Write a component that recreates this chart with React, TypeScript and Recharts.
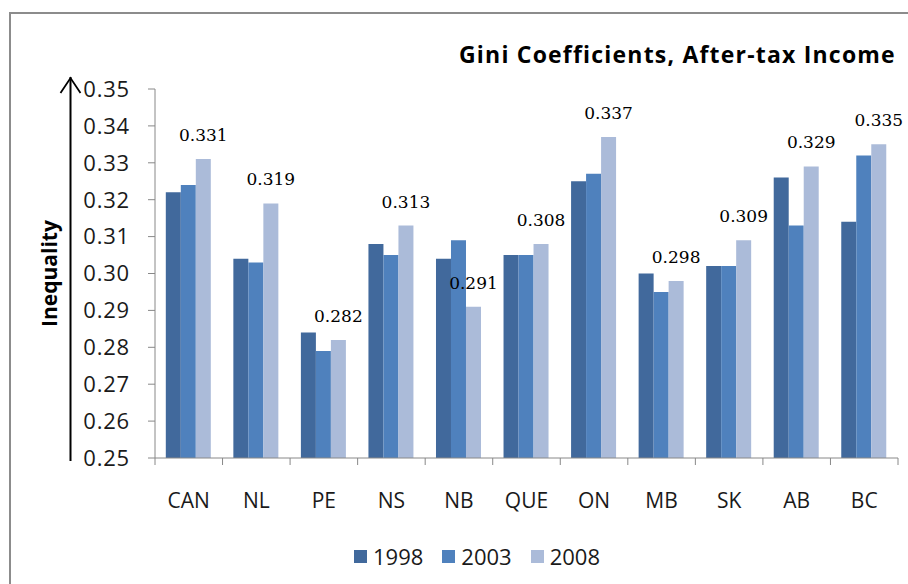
import React from 'react';
import { Bar, BarChart, XAxis, YAxis, Legend, LabelList } from 'recharts';

const categories = ['CAN', 'NL', 'PE', 'NS', 'NB', 'QUE', 'ON', 'MB', 'SK', 'AB', 'BC'];
const gini1998 = [0.322, 0.304, 0.284, 0.308, 0.304, 0.305, 0.325, 0.3, 0.302, 0.326, 0.314];
const gini2003 = [0.324, 0.303, 0.279, 0.305, 0.309, 0.305, 0.327, 0.295, 0.302, 0.313, 0.332];
const gini2008 = [0.331, 0.319, 0.282, 0.313, 0.291, 0.308, 0.337, 0.298, 0.309, 0.329, 0.335];
const yTicks = [0.25, 0.26, 0.27, 0.28, 0.29, 0.3, 0.31, 0.32, 0.33, 0.34, 0.35];

const title = 'Gini Coefficients, After-tax Income';
const yTitle = 'Inequality';

const sans = '"Open Sans", sans-serif';
const serif = '"DejaVu Serif", serif';
const axisGray = '#888888';

const colors = { y1998: '#41699c', y2003: '#4f81bd', y2008: '#abbbd9' };

const data = categories.map((name, i) => ({
  name,
  y1998: gini1998[i],
  y2003: gini2003[i],
  y2008: gini2008[i],
}));

// category tick: label + boundary tick marks between bands
const CategoryTick = (props: any) => {
  const { x, y, payload, index, width } = props;
  const bw = width / categories.length;
  return (
    <g>
      <line x1={x - bw / 2} x2={x - bw / 2} y1={y} y2={y + 7} stroke={axisGray} />
      {index === categories.length - 1 && (
        <line x1={x + bw / 2} x2={x + bw / 2} y1={y} y2={y + 7} stroke={axisGray} />
      )}
      <text x={x} y={y + 50} textAnchor="middle" fontFamily={sans} fontSize={21} fill="#1a1a1a">
        {payload.value}
      </text>
    </g>
  );
};

// rotated title plus the arrow that runs up beside the y axis
const YTitle = (props: any) => {
  const { viewBox } = props;
  const { x, y, height } = viewBox;
  const lx = x + 62.5;
  const top = y - 12;
  const cy = y + height / 2;
  return (
    <g>
      <line x1={lx} x2={lx} y1={top} y2={y + height + 3} stroke="#000" strokeWidth={2} />
      <polyline
        points={`${lx - 10},${top + 16} ${lx},${top + 1} ${lx + 10},${top + 16}`}
        fill="none"
        stroke="#000"
        strokeWidth={1.8}
      />
      <text
        x={x + 49}
        y={cy}
        transform={`rotate(-90 ${x + 49} ${cy})`}
        textAnchor="middle"
        fontFamily={sans}
        fontWeight="bold"
        fontSize={21}
        fill="#000"
      >
        {yTitle}
      </text>
    </g>
  );
};

const LegendContent = ({ payload }: any) => (
  <div style={{ display: 'flex', fontFamily: sans, fontSize: 22, color: '#1a1a1a', lineHeight: '26px' }}>
    {payload.map((entry: any) => (
      <span key={entry.value} style={{ display: 'flex', alignItems: 'center', marginRight: 19 }}>
        <span style={{ width: 13, height: 13, background: entry.color, marginRight: 6 }} />
        {entry.value}
      </span>
    ))}
  </div>
);

const App = () => {
  return (
    <div style={{ position: 'relative', width: 908, height: 584, overflow: 'hidden', background: '#fff' }}>
      <style>{'html, body { margin: 0; overflow: hidden; }'}</style>
      <div
        style={{
          position: 'absolute',
          left: 9,
          top: 12,
          width: 980,
          height: 640,
          border: '2px solid #8c8c8c',
        }}
      />
      <div style={{ position: 'absolute', left: 8, top: 8 }}>
        <BarChart
          width={940}
          height={576}
          data={data}
          margin={{ top: 81, right: 50, left: 0, bottom: 0 }}
          barCategoryGap="16%"
          barGap={0}
        >
          <text
            x={451}
            y={55}
            fontFamily={sans}
            fontWeight="bold"
            fontSize={23}
            letterSpacing={1.2}
            fill="#000"
          >
            {title}
          </text>
          <XAxis
            dataKey="name"
            height={126}
            stroke={axisGray}
            tickLine={false}
            tickSize={0}
            tickMargin={0}
            tick={<CategoryTick />}
            interval={0}
          />
          <YAxis
            width={147}
            domain={[0.25, 0.35]}
            ticks={yTicks}
            interval={0}
            stroke={axisGray}
            tickSize={7}
            tickMargin={18}
            tickFormatter={(v: number) => v.toFixed(2)}
            tick={{ fontFamily: sans, fontSize: 22, fill: '#1a1a1a', letterSpacing: 0.8 }}
            allowDataOverflow
            label={<YTitle />}
          />
          <Legend
            layout="horizontal"
            verticalAlign="middle"
            content={<LegendContent />}
            wrapperStyle={{ left: 346, top: 535, width: 'auto' }}
          />
          <Bar dataKey="y1998" name="1998" fill={colors.y1998} isAnimationActive={false} />
          <Bar dataKey="y2003" name="2003" fill={colors.y2003} isAnimationActive={false} />
          <Bar dataKey="y2008" name="2008" fill={colors.y2008} isAnimationActive={false}>
            <LabelList
              dataKey="y2008"
              position="top"
              offset={18}
              formatter={(v: number) => v.toFixed(3)}
              style={{ fontFamily: serif, fontSize: 17, fill: '#000' }}
            />
          </Bar>
        </BarChart>
      </div>
    </div>
  );
};

export default App;
